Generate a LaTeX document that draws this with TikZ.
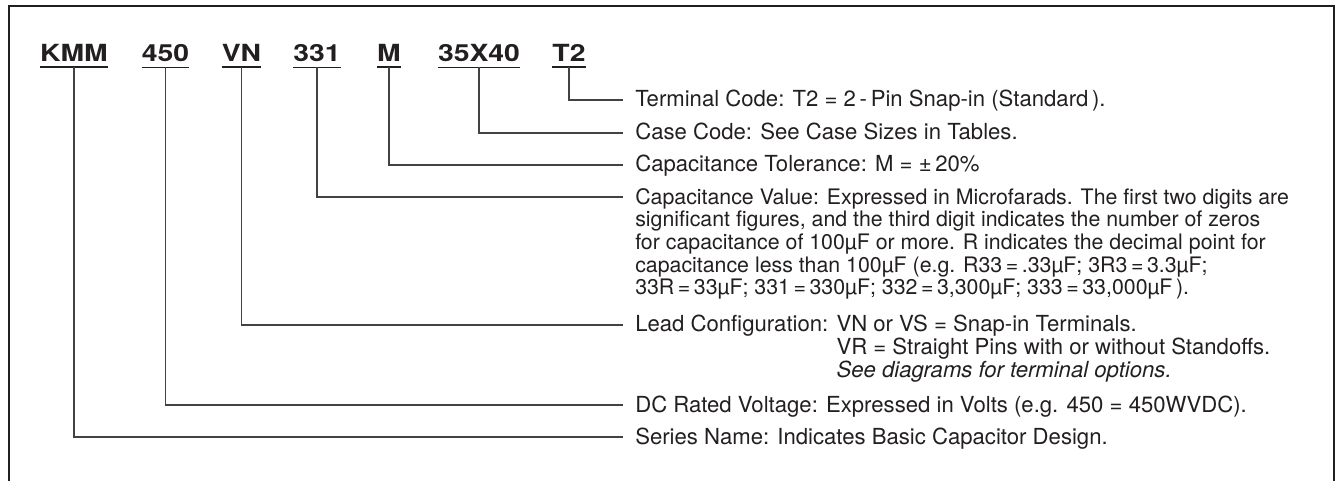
\documentclass[tikz,border=0pt]{standalone}
\usepackage{fontspec}
\setmainfont{TeX Gyre Heros}
\newfontfamily\codefont[FakeStretch=1.2]{TeX Gyre Heros}
\usepackage{tikz}
\definecolor{ink}{HTML}{231F20}

\begin{document}
\begin{tikzpicture}[x=0.75pt, y=-0.75pt, color=ink,
  code/.style={font=\codefont\bfseries\fontsize{17.7}{20}\selectfont, anchor=base, inner xsep=0pt, inner ysep=3.75pt},
  desc/.style={font=\fontsize{16.6}{17}\selectfont, anchor=base west, inner sep=0pt, align=left},
  descpar/.style={desc, font=\fontsize{16}{17}\selectfont},
  uline/.style={line width=1.2pt},
  leader/.style={line width=0.8pt, color=ink!85}]
\useasboundingbox (0, 0) rectangle (1339, 481);
\draw[line width=1.5pt] (9, 481) |- (1334, 6) -- (1334, 481);
% part number
\node[code] (kmm) at (74, 62) {KMM};
\node[code] (volt) at (165.5, 62) {450};
\node[code] (lead) at (241.5, 62) {VN};
\node[code] (capval) at (317, 62) {331};
\node[code] (tol) at (389, 62) {M};
\node[code] (case) at (479, 62) {35X40};
\node[code] (term) at (569, 62) {T2};
\draw[uline] (kmm.south west) -- (kmm.south east);
\draw[uline] (volt.south west) -- (volt.south east);
\draw[uline] (lead.south west) -- (lead.south east);
\draw[uline] (capval.south west) -- (capval.south east);
\draw[uline] (tol.south west) -- (tol.south east);
\draw[uline] (case.south west) -- (case.south east);
\draw[uline] (term.south west) -- (term.south east);
% explanations (multi-line nodes sit on their last baseline)
\node[desc] (termtxt) at (635, 107) {Terminal Code: T2 = 2\,-\,Pin Snap-in (Standard\,).};
\node[desc] (casetxt) at (635, 140) {Case Code: See Case Sizes in Tables.};
\node[desc] (toltxt) at (635, 172) {Capacitance Tolerance: M = ±\,20\%};
\node[descpar] (captxt) at (635, 294.7) {Capacitance Value: Expressed in Microfarads. The first two digits are\\
  significant figures, and the third digit indicates the number of zeros\\
  for capacitance of 100µF or more. R indicates the decimal point for\\
  capacitance less than 100µF (e.g. R33\,=\,.33µF; 3R3\,=\,3.3µF;\\
  33R\,=\,33µF; 331\,=\,330µF; 332\,=\,3,300µF; 333\,=\,33,000µF\,).};
\node[desc] (leadtxt) at (635, 377.3) {Lead Configuration: VN or VS = Snap-in Terminals.\\
  \hphantom{Lead Configuration: }VR = Straight Pins with or without Standoffs.\\
  \hphantom{Lead Configuration: }\textit{See diagrams for terminal options.}};
\node[desc] (volttxt) at (635, 412) {DC Rated Voltage: Expressed in Volts (e.g. 450 = 450WVDC).};
\node[desc] (kmmtxt) at (635, 444) {Series Name: Indicates Basic Capacitor Design.};
% leaders
\draw[leader] (term.south) |- ([xshift=-9pt, yshift=5.25pt]termtxt.base west);
\draw[leader] (case.south) |- ([xshift=-9pt, yshift=5.25pt]casetxt.base west);
\draw[leader] (tol.south) |- ([xshift=-9pt, yshift=5.25pt]toltxt.base west);
\draw[leader] (capval.south) |- ([xshift=-9pt, yshift=73.25pt]captxt.base west);
\draw[leader] (lead.south) |- ([xshift=-9pt, yshift=39.25pt]leadtxt.base west);
\draw[leader] (volt.south) |- ([xshift=-9pt, yshift=5.25pt]volttxt.base west);
\draw[leader] (kmm.south) |- ([xshift=-9pt, yshift=5.25pt]kmmtxt.base west);
\end{tikzpicture}
\end{document}
